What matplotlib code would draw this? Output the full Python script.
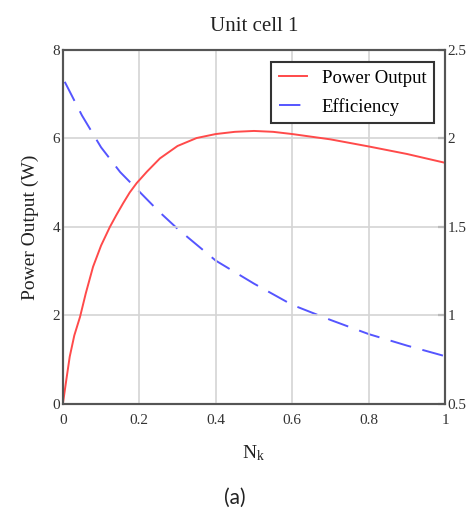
import matplotlib
matplotlib.use("Agg")
import matplotlib.pyplot as plt

plt.rcParams["font.family"] = "Liberation Serif"
plt.rcParams["mathtext.fontset"] = "custom"
plt.rcParams["mathtext.rm"] = "Liberation Serif"
plt.rcParams["mathtext.it"] = "Liberation Serif"

# values
nk_power = [0.0, 0.01, 0.018, 0.03, 0.045, 0.06, 0.079, 0.1, 0.123, 0.14,
            0.158, 0.175, 0.193, 0.22, 0.254, 0.3, 0.35, 0.4, 0.45, 0.5,
            0.55, 0.6, 0.7, 0.8, 0.9, 1.0]
power = [0.0, 0.6, 1.07, 1.55, 1.97, 2.5, 3.1, 3.58, 4.0, 4.27,
         4.54, 4.78, 4.99, 5.25, 5.55, 5.83, 6.01, 6.1, 6.15, 6.17,
         6.15, 6.1, 5.98, 5.82, 5.65, 5.45]

nk_eff = [0.005, 0.05, 0.1, 0.15, 0.2, 0.25, 0.3, 0.35, 0.4, 0.45, 0.5,
          0.55, 0.6, 0.7, 0.8, 0.9, 1.0]
efficiency = [2.32, 2.13, 1.95, 1.81, 1.70, 1.59, 1.49, 1.40, 1.31, 1.245,
              1.18, 1.12, 1.06, 0.975, 0.895, 0.83, 0.77]

x_ticks = [0, 0.2, 0.4, 0.6, 0.8, 1]
x_labels = ["0", "0.2", "0.4", "0.6", "0.8", "1"]
left_ticks = [0, 2, 4, 6, 8]
right_ticks = [0.5, 1, 1.5, 2, 2.5]
right_labels = ["0.5", "1", "1.5", "2", "2.5"]

fig = plt.figure(figsize=(4.69, 5.21), dpi=100)
ax = fig.add_axes([0.134, 0.2246, 0.815, 0.6795])
ax2 = ax.twinx()

l1, = ax.plot(nk_power, power, color="#ff4a4a", lw=1.4, label="Power Output")
l2, = ax2.plot(nk_eff, efficiency, color="#5555ff", lw=1.4,
               dashes=(11, 6), label="Efficiency")

ax.set_xlim(0, 1)
ax.set_ylim(0, 8)
ax2.set_ylim(0.5, 2.5)
ax.set_xticks(x_ticks)
ax.set_xticklabels(x_labels)
ax.set_yticks(left_ticks)
ax2.set_yticks(right_ticks)
ax2.set_yticklabels(right_labels)

ax.grid(True, color="#d4d4d4", lw=1.2)
ax.set_axisbelow(True)
ax.tick_params(axis="both", length=0, pad=2, labelsize=11, colors="#333333")
ax.tick_params(axis="x", pad=7)
ax2.tick_params(axis="y", direction="in", length=5, width=1.5, pad=2,
                labelsize=11, colors="#333333")

for a in (ax, ax2):
    for s in a.spines.values():
        s.set_color("#555555")
        s.set_linewidth(1.5)

ax.set_title("Unit cell 1", fontsize=15, pad=14, color="#222222")
ax.set_ylabel("Power Output (W)", fontsize=14, labelpad=10, color="#222222")
ax.set_xlabel(r"N$_{\mathrm{k}}$", fontsize=14, labelpad=12, color="#222222")

leg = ax.legend(handles=[l1, l2], loc="upper right", fontsize=13.5,
                frameon=True, fancybox=False, handlelength=1.5,
                handletextpad=0.8, borderpad=0.4, labelspacing=0.6,
                borderaxespad=0, bbox_to_anchor=(0.971, 0.966))
leg.get_frame().set_edgecolor("#333333")
leg.get_frame().set_linewidth(1.5)
leg.get_frame().set_alpha(1)
ax2.set_zorder(ax.get_zorder() - 1)
ax.patch.set_visible(False)

fig.text(0.5, 0.044, "(a)", fontsize=15, family="Lato", ha="center",
         va="center", color="#222222")

fig.savefig("out.png", dpi=100)
